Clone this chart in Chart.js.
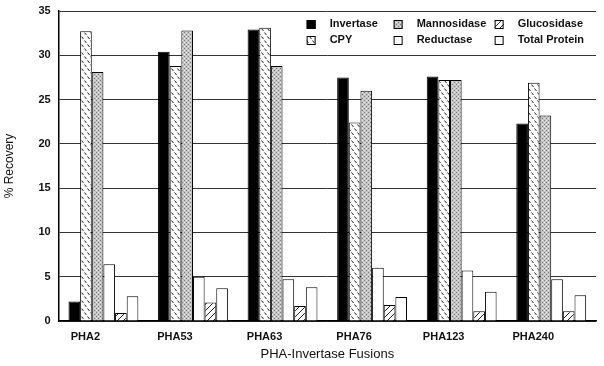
<!DOCTYPE html>
<html>
<head>
<meta charset="utf-8">
<script src="https://cdn.jsdelivr.net/npm/chart.js@4"></script>
<style>
  html, body { margin: 0; padding: 0; background: #fff; }
  #wrap { width: 604px; height: 366px; }
</style>
</head>
<body>
<div id="wrap"><canvas id="chart" width="604" height="366"></canvas></div>
<script>
// data
const fusions = ['PHA2', 'PHA53', 'PHA63', 'PHA76', 'PHA123', 'PHA240'];
const invertase = [2.2, 30.4, 32.9, 27.5, 27.6, 22.3];
const cpy = [32.7, 28.8, 33.1, 22.4, 27.2, 26.9];
const mannosidase = [28.1, 32.8, 28.8, 26.0, 27.2, 23.2];
const reductase = [6.4, 5.0, 4.7, 6.0, 5.7, 4.7];
const glucosidase = [0.9, 2.1, 1.7, 1.8, 1.1, 1.1];
const totalProtein = [2.8, 3.7, 3.8, 2.7, 3.3, 2.9];
const yTicks = [0, 5, 10, 15, 20, 25, 30, 35];

const fontFamily = '"Liberation Sans", Arial, sans-serif';

// fill patterns, built on small tiles
function makePattern(w, h, draw) {
    const c = document.createElement('canvas');
    c.width = w; c.height = h;
    const g = c.getContext('2d');
    draw(g);
    return g.createPattern(c, 'repeat');
}

const cpyFill = makePattern(6, 8, g => {
    g.fillStyle = '#fff';
    g.fillRect(0, 0, 6, 8);
    g.strokeStyle = '#222';
    g.lineWidth = 1;
    g.beginPath();
    g.moveTo(0.5, 0.5); g.lineTo(2.5, 3);
    g.moveTo(3.5, 4.5); g.lineTo(5.5, 7);
    g.stroke();
});

const mannFill = makePattern(4, 4, g => {
    g.fillStyle = '#c4c4c4';
    g.fillRect(0, 0, 4, 4);
    g.fillStyle = '#7a7a7a';
    g.fillRect(0, 0, 1, 1);
    g.fillRect(2, 2, 1, 1);
    g.fillStyle = '#e6e6e6';
    g.fillRect(2, 0, 1, 1);
    g.fillRect(0, 2, 1, 1);
});

const glucFill = makePattern(6, 6, g => {
    g.fillStyle = '#fff';
    g.fillRect(0, 0, 6, 6);
    g.strokeStyle = '#222';
    g.lineWidth = 1;
    g.beginPath();
    g.moveTo(0, 6); g.lineTo(6, 0);
    g.moveTo(-1, 1); g.lineTo(1, -1);
    g.moveTo(5, 7); g.lineTo(7, 5);
    g.stroke();
});

const series = [
    { label: 'Invertase', data: invertase, fill: '#000' },
    { label: 'CPY', data: cpy, fill: cpyFill },
    { label: 'Mannosidase', data: mannosidase, fill: mannFill },
    { label: 'Reductase', data: reductase, fill: '#fff' },
    { label: 'Glucosidase', data: glucosidase, fill: glucFill },
    { label: 'Total Protein', data: totalProtein, fill: '#fff' }
];

// legend order in the figure: three columns, two rows
const legendOrder = ['Invertase', 'Mannosidase', 'Glucosidase', 'CPY', 'Reductase', 'Total Protein'];

const legendPlugin = {
    id: 'gridLegend',
    afterDraw(chart) {
        const ctx = chart.ctx;
        const area = chart.chartArea;
        const colX = [area.left + 248, area.left + 335, area.left + 436];
        const rowY = [area.top + 13, area.top + 29];
        ctx.save();
        ctx.font = 'bold 11px ' + fontFamily;
        ctx.textBaseline = 'middle';
        legendOrder.forEach((name, i) => {
            const s = series.find(d => d.label === name);
            const x = colX[i % 3];
            const y = rowY[Math.floor(i / 3)];
            ctx.fillStyle = s.fill;
            ctx.fillRect(x, y - 4, 9, 9);
            ctx.strokeStyle = '#000';
            ctx.lineWidth = 1;
            ctx.strokeRect(x + 0.5, y - 3.5, 8, 8);
            ctx.fillStyle = '#111';
            ctx.fillText(name, x + 23, y);
        });
        ctx.restore();
    }
};

new Chart(document.getElementById('chart'), {
    type: 'bar',
    data: {
        labels: fusions,
        datasets: series.map(s => ({
            label: s.label,
            data: s.data,
            backgroundColor: s.fill,
            borderColor: '#000',
            borderWidth: 1,
            categoryPercentage: 0.78,
            barPercentage: 1.0
        }))
    },
    options: {
        responsive: false,
        animation: false,
        layout: { padding: { top: 0, right: 8, left: 0, bottom: 0 } },
        plugins: {
            legend: { display: false },
            tooltip: { enabled: false }
        },
        scales: {
            x: {
                afterFit: axis => { axis.height = 45; },
                grid: { display: false, drawTicks: false },
                border: { display: true, color: '#000', width: 1.5 },
                ticks: {
                    color: '#111',
                    labelOffset: -18,
                    padding: 9,
                    font: { family: fontFamily, size: 11, weight: 'bold' }
                },
                title: {
                    display: true,
                    text: 'PHA-Invertase Fusions',
                    color: '#111',
                    padding: { top: 4, bottom: 4 },
                    font: { family: fontFamily, size: 13 }
                }
            },
            y: {
                min: 0,
                max: 35,
                afterBuildTicks: axis => {
                    axis.ticks = yTicks.map(v => ({ value: v }));
                },
                afterFit: axis => { axis.paddingTop = 11; },
                grid: { color: '#333', lineWidth: 1, drawTicks: false },
                border: { display: true, color: '#000', width: 1.5 },
                ticks: {
                    color: '#111',
                    padding: 8,
                    font: { family: fontFamily, size: 11, weight: 'bold' }
                },
                title: {
                    display: true,
                    text: '% Recovery',
                    color: '#111',
                    padding: { top: 2, bottom: 14 },
                    font: { family: fontFamily, size: 12 }
                }
            }
        }
    },
    plugins: [legendPlugin]
});
</script>
</body>
</html>
